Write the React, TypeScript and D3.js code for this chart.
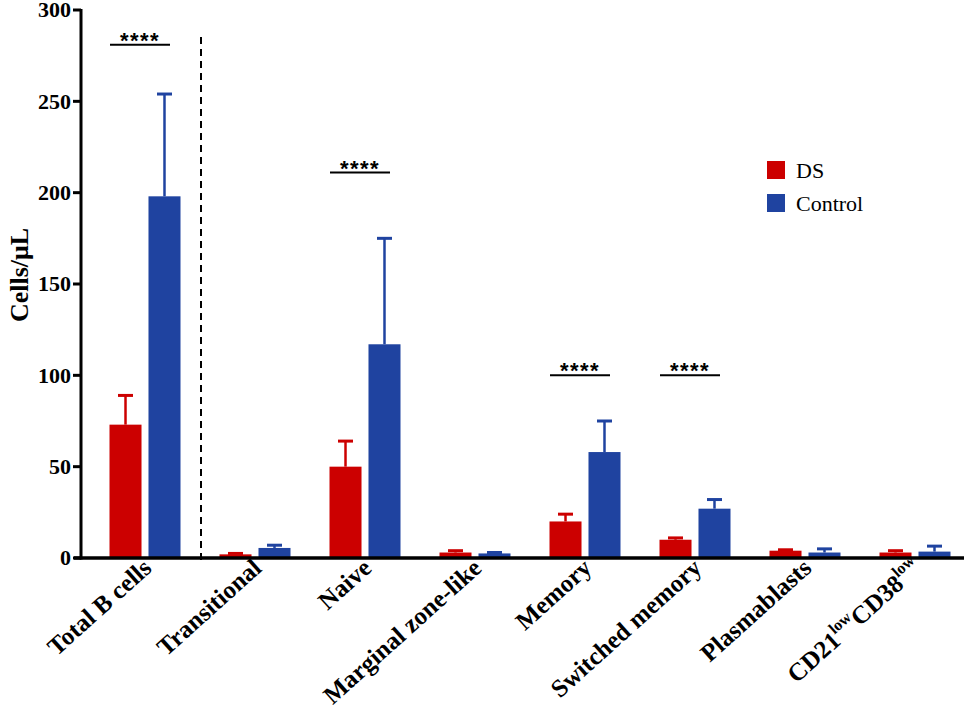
import * as d3 from "d3";

// categories and series
const categories = [
  "Total B cells",
  "Transitional",
  "Naive",
  "Marginal zone-like",
  "Memory",
  "Switched memory",
  "Plasmablasts",
  "CD21lowCD38low",
];
const series = ["DS", "Control"];
const seriesColors = ["#CC0000", "#1F43A0"];

// means and upper error (mean + SD)
const dsMean = [73, 2, 50, 3, 20, 10, 4, 3];
const dsUpper = [89, 2.5, 64, 4, 24, 11, 4.5, 4];
const ctrlMean = [198, 5.5, 117, 2.5, 58, 27, 3, 3.5];
const ctrlUpper = [254, 7, 175, 3, 75, 32, 5, 6.5];

// significance brackets
const sigCategories = ["Total B cells", "Naive", "Memory", "Switched memory"];
const sigLevels = [281, 211, 100, 100];
const sigLabel = "****";

const yTicks = [0, 50, 100, 150, 200, 250, 300];

const serif = "'Liberation Serif', 'Times New Roman', serif";

export default function App() {
  const width = 964;
  const height = 707;
  const axisX = 81;

  const y = d3.scaleLinear().domain([0, 300]).range([558, 10]);
  const x = d3.scalePoint().domain(categories).range([145, 915]);
  const inner = d3
    .scaleBand()
    .domain(series)
    .range([-35.5, 35.5])
    .paddingInner(0.179);
  const bw = inner.bandwidth();

  const means = [dsMean, ctrlMean];
  const uppers = [dsUpper, ctrlUpper];

  // dashed divider between total and subsets
  const divX = (x(categories[0])! + x(categories[1])!) / 2 + 1;

  return (
    <svg
      width={width}
      height={height}
      style={{ position: "absolute", left: 0, top: 0, background: "#fff" }}
    >
      {/* bars + error bars */}
      {series.map((s, si) =>
        categories.map((c, ci) => {
          const cx = x(c)! + inner(s)!;
          const m = means[si][ci];
          const u = uppers[si][ci];
          const mid = cx + bw / 2;
          return (
            <g key={s + c}>
              <line
                x1={mid}
                x2={mid}
                y1={y(m)}
                y2={y(u)}
                stroke={seriesColors[si]}
                strokeWidth={2.5}
              />
              <line
                x1={mid - 7.5}
                x2={mid + 7.5}
                y1={y(u)}
                y2={y(u)}
                stroke={seriesColors[si]}
                strokeWidth={3}
              />
              <rect
                x={cx}
                y={y(m)}
                width={bw}
                height={y(0) - y(m)}
                fill={seriesColors[si]}
              />
            </g>
          );
        })
      )}

      {/* divider */}
      <line
        x1={divX}
        x2={divX}
        y1={37}
        y2={562}
        stroke="#000"
        strokeWidth={2}
        strokeDasharray="7,5"
      />

      {/* significance */}
      {sigCategories.map((c, i) => {
        const cx = x(c)!;
        const ly = y(sigLevels[i]);
        return (
          <g key={c}>
            <line
              x1={cx - 35}
              x2={cx + 25}
              y1={ly}
              y2={ly}
              stroke="#000"
              strokeWidth={2}
            />
            <text
              x={cx - 5}
              y={ly + 3}
              textAnchor="middle"
              fontFamily="'Liberation Sans', Arial, sans-serif"
              fontWeight="bold"
              fontSize={22}
              letterSpacing={1.5}
              fill="#000"
            >
              {sigLabel}
            </text>
          </g>
        );
      })}

      {/* y axis */}
      <line
        x1={axisX}
        x2={axisX}
        y1={y(300) - 1}
        y2={y(0) + 1.5}
        stroke="#000"
        strokeWidth={3}
      />
      {yTicks.map((t) => (
        <g key={t}>
          <line
            x1={axisX - 8}
            x2={axisX}
            y1={y(t)}
            y2={y(t)}
            stroke="#000"
            strokeWidth={3}
          />
          <text
            x={axisX - 10}
            y={y(t)}
            dy="0.33em"
            textAnchor="end"
            fontFamily={serif}
            fontWeight="bold"
            fontSize={22}
            fill="#000"
          >
            {t}
          </text>
        </g>
      ))}
      <text
        transform="translate(28, 275) rotate(-90)"
        textAnchor="middle"
        fontFamily={serif}
        fontWeight="bold"
        fontSize={26}
        fill="#000"
      >
        Cells/μL
      </text>

      {/* x axis */}
      <line
        x1={axisX - 7}
        x2={width}
        y1={y(0)}
        y2={y(0)}
        stroke="#000"
        strokeWidth={3.5}
      />
      {categories.map((c) => {
        const tx = x(c)! + 8;
        const ty = 570;
        return (
          <text
            key={c}
            transform={`translate(${tx}, ${ty}) rotate(-42)`}
            textAnchor="end"
            fontFamily={serif}
            fontWeight="bold"
            fontSize={25}
            fill="#000"
          >
            {c === "CD21lowCD38low" ? (
              <>
                CD21
                <tspan fontSize={16} dy={-11}>
                  low
                </tspan>
                <tspan dy={11}>CD38</tspan>
                <tspan fontSize={16} dy={-11}>
                  low
                </tspan>
              </>
            ) : (
              c
            )}
          </text>
        );
      })}

      {/* legend */}
      {series.map((s, i) => (
        <g key={s} transform={`translate(767, ${161 + i * 33})`}>
          <rect width={18} height={18} fill={seriesColors[i]} />
          <text
            x={29}
            y={9}
            dy="0.35em"
            fontFamily={serif}
            fontSize={22}
            fill="#000"
          >
            {s}
          </text>
        </g>
      ))}
    </svg>
  );
}
